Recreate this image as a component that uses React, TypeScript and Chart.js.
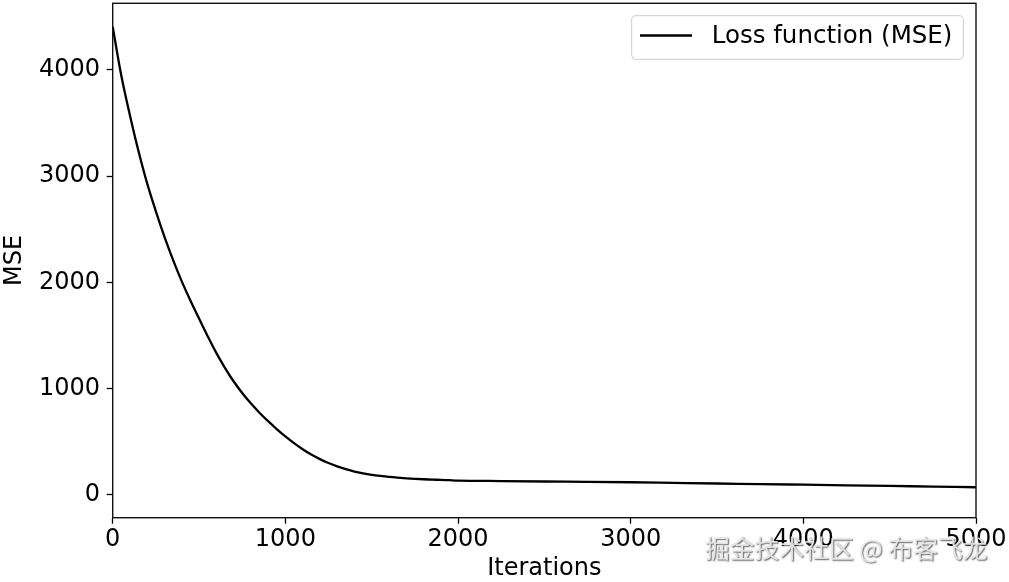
import React, { useEffect, useRef } from "react";
import { Chart, registerables } from "chart.js";

Chart.register(...registerables);

// ---- data ----
const iterations = [
  0, 50, 100, 150, 200, 250, 300, 350, 400, 450, 500, 550, 600, 650, 700, 750,
  800, 850, 900, 950, 1000, 1050, 1100, 1150, 1200, 1250, 1300, 1350, 1400, 1450,
  1500, 1550, 1600, 1650, 1700, 1750, 1800, 1850, 1900, 1950, 2000, 2250, 2500,
  2750, 3000, 3250, 3500, 3750, 4000, 4250, 4500, 4750, 5000,
];
const mseValues = [
  4407, 3945, 3572, 3232, 2929, 2669, 2429, 2209, 2009, 1829, 1659, 1493, 1335,
  1195, 1068, 958, 860, 772, 692, 618, 548, 485, 428, 378, 335, 298, 266, 240,
  218, 201, 187, 176, 167, 160, 154, 149, 145, 142, 139, 136, 133, 128, 124, 121,
  117, 111, 105, 100, 94, 88, 82, 76, 70,
];
const xTickValues = [0, 1000, 2000, 3000, 4000, 5000];
const yTickValues = [0, 1000, 2000, 3000, 4000];
const seriesLabel = "Loss function (MSE)";
const xTitle = "Iterations";
const yTitle = "MSE";
const watermarkText = "掘金技术社区 @ 布客飞龙";

const FONT = "'DejaVu Sans', 'Noto Sans', sans-serif";

export default function App() {
  const canvasRef = useRef<HTMLCanvasElement | null>(null);

  useEffect(() => {
    document.body.style.margin = "0";
    const canvas = canvasRef.current;
    if (!canvas) return;

    const framePlugin = {
      id: "frameBox",
      afterDatasetsDraw(chart: any) {
        const { ctx, chartArea } = chart;
        const { left, top, right, bottom } = chartArea;
        ctx.save();
        ctx.strokeStyle = "#111";
        ctx.lineWidth = 1.4;
        ctx.strokeRect(left, top, right - left, bottom - top);
        ctx.restore();
      },
    };

    const legendPlugin = {
      id: "mplLegend",
      afterDraw(chart: any) {
        const { ctx } = chart;
        const ds = chart.data.datasets[0];
        const bx = 631.7, by = 15.7, bw = 331.6, bh = 43.6, r = 4;
        ctx.save();
        ctx.beginPath();
        ctx.moveTo(bx + r, by);
        ctx.lineTo(bx + bw - r, by);
        ctx.arcTo(bx + bw, by, bx + bw, by + r, r);
        ctx.lineTo(bx + bw, by + bh - r);
        ctx.arcTo(bx + bw, by + bh, bx + bw - r, by + bh, r);
        ctx.lineTo(bx + r, by + bh);
        ctx.arcTo(bx, by + bh, bx, by + bh - r, r);
        ctx.lineTo(bx, by + r);
        ctx.arcTo(bx, by, bx + r, by, r);
        ctx.closePath();
        ctx.fillStyle = "rgba(255,255,255,0.8)";
        ctx.fill();
        ctx.strokeStyle = "#cccccc";
        ctx.lineWidth = 1;
        ctx.stroke();
        // sample line
        ctx.beginPath();
        ctx.moveTo(640, 35.5);
        ctx.lineTo(692, 35.5);
        ctx.strokeStyle = ds.borderColor;
        ctx.lineWidth = ds.borderWidth;
        ctx.stroke();
        // label
        ctx.fillStyle = "#000";
        ctx.font = `24.5px ${FONT}`;
        ctx.textAlign = "left";
        ctx.textBaseline = "middle";
        ctx.fillText(ds.label, 711.7, 36.5);
        ctx.restore();
      },
    };

    const watermarkPlugin = {
      id: "watermark",
      afterDraw(chart: any) {
        const { ctx } = chart;
        ctx.save();
        ctx.font = `24.8px 'Noto Sans CJK SC', sans-serif`;
        ctx.textAlign = "left";
        ctx.textBaseline = "middle";
        ctx.shadowColor = "rgba(60,60,60,0.9)";
        ctx.shadowOffsetX = 1;
        ctx.shadowOffsetY = 1;
        ctx.shadowBlur = 1.5;
        ctx.fillStyle = "rgba(232,232,232,0.92)";
        ctx.fillText(watermarkText, 705, 549);
        ctx.restore();
      },
    };

    const chart = new Chart(canvas, {
      type: "line",
      data: {
        datasets: [
          {
            label: seriesLabel,
            data: iterations.map((x, i) => ({ x, y: mseValues[i] })),
            borderColor: "#000000",
            backgroundColor: "#000000",
            borderWidth: 2.3,
            pointRadius: 0,
            fill: false,
            cubicInterpolationMode: "monotone",
          },
        ],
      },
      options: {
        responsive: false,
        animation: false,
        devicePixelRatio: 1,
        layout: { padding: { top: 3.3, right: 33, left: 0, bottom: 0 } },
        plugins: {
          legend: { display: false },
          tooltip: { enabled: false },
        },
        scales: {
          x: {
            type: "linear",
            min: 0,
            max: 5000,
            afterBuildTicks: (s: any) => {
              s.ticks = xTickValues.map((value) => ({ value }));
            },
            afterFit: (s: any) => {
              s.height = 64.3;
              s.paddingLeft = 0;
              s.paddingRight = 0;
            },
            border: { display: false },
            grid: {
              drawOnChartArea: false,
              drawTicks: true,
              tickLength: 6,
              tickColor: "#000",
              tickWidth: 1.3,
            },
            ticks: {
              color: "#000",
              padding: 4,
              maxRotation: 0,
              autoSkip: false,
              font: { family: FONT, size: 24, lineHeight: 1 },
              callback: (v: any) => String(v),
            },
            title: {
              display: true,
              text: xTitle,
              color: "#000",
              font: { family: FONT, size: 24, lineHeight: 1 },
              padding: { top: 0, bottom: 1 },
            },
          },
          y: {
            type: "linear",
            min: -217,
            max: 4628,
            afterBuildTicks: (s: any) => {
              s.ticks = yTickValues.map((value) => ({ value }));
            },
            afterFit: (s: any) => {
              s.width = 112.7;
              s.paddingTop = 0;
              s.paddingBottom = 0;
            },
            border: { display: false },
            grid: {
              drawOnChartArea: false,
              drawTicks: true,
              tickLength: 6,
              tickColor: "#000",
              tickWidth: 1.3,
            },
            ticks: {
              color: "#000",
              padding: 6.7,
              autoSkip: false,
              font: { family: FONT, size: 24, lineHeight: 1 },
              callback: (v: any) => String(v),
            },
            title: {
              display: true,
              text: yTitle,
              color: "#000",
              font: { family: FONT, size: 24, lineHeight: 1 },
              padding: { top: 3, bottom: 0 },
            },
          },
        },
      },
      plugins: [framePlugin, legendPlugin, watermarkPlugin],
    } as any);

    return () => {
      chart.destroy();
    };
  }, []);

  return (
    <div
      style={{
        position: "fixed",
        left: 0,
        top: 0,
        width: 1009,
        height: 582,
        background: "#ffffff",
      }}
    >
      <canvas
        ref={canvasRef}
        width={1009}
        height={582}
        style={{ display: "block", width: 1009, height: 582 }}
      />
    </div>
  );
}
